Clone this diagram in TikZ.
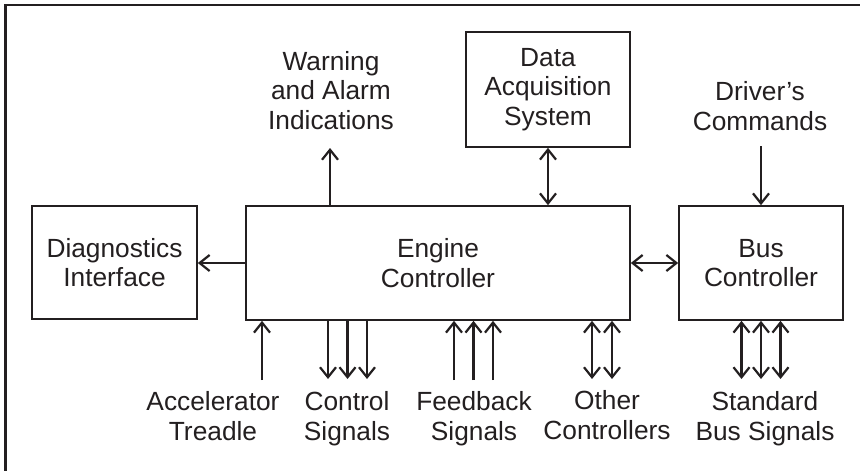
\documentclass[tikz,border=0pt]{standalone}
\usepackage{fontspec}
\setmainfont{Liberation Sans}
\usetikzlibrary{arrows.meta,calc}
\definecolor{ink}{HTML}{231F20}
\begin{document}
\begin{tikzpicture}[x=1pt,y=-1pt,
  txt/.style={font=\fontsize{26.3}{29.5}\selectfont, text=ink, align=center, inner sep=0pt},
  blk/.style={txt, draw=ink, line width=1.7pt, rectangle, minimum width=#1},
  conn/.style={draw=ink, line width=2.2pt, -{Straight Barb[length=10pt,width=16pt]}},
  biconn/.style={draw=ink, line width=2.2pt, {Straight Barb[length=10pt,width=16pt]}-{Straight Barb[length=10pt,width=16pt]}},
  lbl/.style={txt, anchor=base}]
\useasboundingbox (0,0) rectangle (860,471);
\fill[white] (0,0) rectangle (860,471);
\draw[ink, line width=2.4pt] (5.5,471) -- (5.5,5) -- (860,5);

% boxes
\node[blk=165pt, minimum height=113pt] (diag) at (114.5,262.5) {Diagnostics\\Interface};
\node[blk=384pt, minimum height=114pt] (eng) at (438,263) {Engine\\Controller};
\node[blk=164pt, minimum height=114pt] (bus) at (761,263) {Bus\\Controller};
\node[blk=164pt, minimum height=115pt] (daq) at (548,89.5) {Data\\Acquisition\\System};

% labels (anchored at the baseline of their last line)
\node[lbl] (warn) at (331,129) {Warning\\and Alarm\\Indications};
\node[lbl] (drv) at (760,130) {Driver’s\\Commands};
\node[lbl] (acc) at (213,440) {Accelerator\\Treadle};
\node[lbl] (ctl) at (347,440) {Control\\Signals};
\node[lbl] (fb) at (474,440) {Feedback\\Signals};
\node[lbl] (oth) at (607,439) {Other\\Controllers};
\node[lbl] (std) at (765,440) {Standard\\Bus Signals};

% free ends
\coordinate (w1) at (330,148);
\coordinate (d1) at (761,146);
\coordinate (a1) at (262,380);
\coordinate (c1) at (328,379);
\coordinate (c2) at (347.5,379);
\coordinate (c3) at (367,379);
\coordinate (f1) at (454,380);
\coordinate (f2) at (473.5,380);
\coordinate (f3) at (493,380);
\coordinate (o1) at (592,379);
\coordinate (o2) at (612,379);
\coordinate (s1) at (741.5,379);
\coordinate (s2) at (761,379);
\coordinate (s3) at (780.5,379);

% connectors
\draw[conn] (eng.north -| w1) -- (w1);
\draw[biconn] (daq.south) -- (daq.south |- eng.north);
\draw[conn] (d1) -- (d1 |- bus.north);
\draw[conn] (eng.west) -- (eng.west -| diag.east);
\draw[biconn] (eng.east) -- (bus.west);
\draw[conn] (a1) -- (a1 |- eng.south);
\foreach \c in {c1,c2,c3} \draw[conn] (\c |- eng.south) -- (\c);
\foreach \c in {f1,f2,f3} \draw[conn] (\c) -- (\c |- eng.south);
\foreach \c in {o1,o2} \draw[biconn] (\c |- eng.south) -- (\c);
\foreach \c in {s1,s2,s3} \draw[biconn] (\c |- bus.south) -- (\c);
\end{tikzpicture}
\end{document}
